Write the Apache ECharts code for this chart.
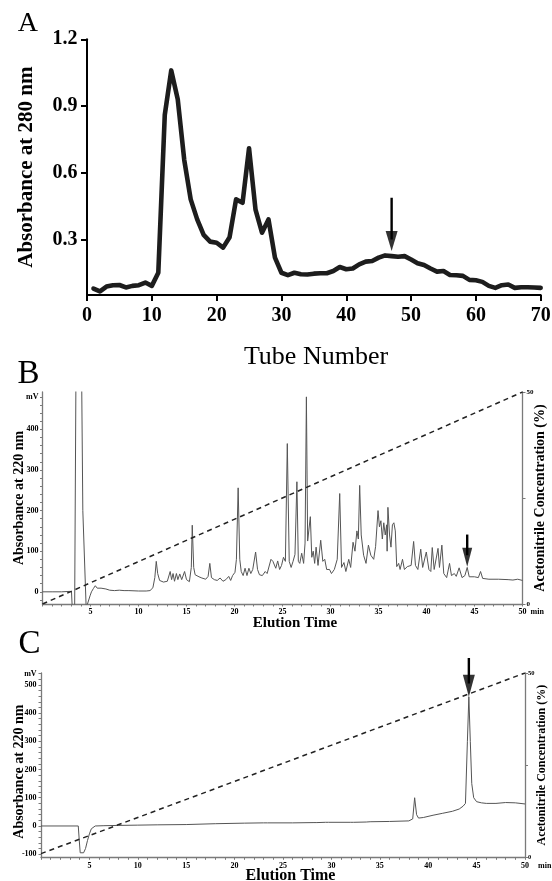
<!DOCTYPE html>
<html><head><meta charset="utf-8">
<script src="https://cdn.jsdelivr.net/npm/echarts@6/dist/echarts.min.js"></script>
<style>html,body{margin:0;padding:0;background:#fff}#c{width:552px;height:881px}</style>
</head><body><div id="c"></div><script>
// ---------- Panel A: gel filtration ----------
const tubeNumbers = [1,2,3,4,5,6,7,8,9,10,11,12,13,14,15,16,17,18,19,20,21,22,23,24,25,26,27,28,29,30,31,32,33,34,35,36,37,38,39,40,41,42,43,44,45,46,47,48,49,50,51,52,53,54,55,56,57,58,59,60,61,62,63,64,65,66,67,68,69,70];
const absorbance280 = [0.079,0.066,0.088,0.094,0.095,0.084,0.091,0.094,0.106,0.091,
  0.15,0.86,1.06,0.93,0.658,0.48,0.39,0.32,0.29,0.285,
  0.263,0.31,0.48,0.465,0.71,0.434,0.33,0.39,0.218,0.15,
  0.139,0.15,0.143,0.142,0.146,0.148,0.148,0.158,0.176,0.166,
  0.169,0.188,0.2,0.203,0.218,0.228,0.225,0.222,0.225,0.21,
  0.193,0.185,0.169,0.155,0.158,0.14,0.139,0.136,0.118,0.116,
  0.109,0.091,0.082,0.094,0.097,0.082,0.085,0.085,0.084,0.082];
const tickLabelsA_y = [0.3, 0.6, 0.9, 1.2];
const arrowA = {x: 47, top: 0.487, shaftEnd: 0.30, tip: 0.248};

// ---------- Panel B: RP-HPLC of the fraction ----------
const timeB = [0,1,2,2.8,2.95,3.02,3.1,3.35,3.5,4.05,4.2,4.55,4.75,4.95,5.1,5.3,5.5,5.7,5.9,6.1,6.3,6.6,7.0,7.5,8.0,8.5,9.0,10.0,10.8,11.2,11.5,11.7,11.85,12.0,12.2,12.4,12.6,12.8,13.0,13.3,13.45,13.6,13.75,13.95,14.1,14.3,14.5,14.8,15.0,15.3,15.5,15.6,15.75,15.9,16.1,16.3,16.6,17.0,17.25,17.43,17.6,17.9,18.2,18.5,18.8,19.1,19.4,19.6,19.8,20.05,20.2,20.38,20.55,20.7,20.9,21.1,21.3,21.5,21.7,21.9,22.2,22.4,22.6,22.9,23.2,23.4,23.8,24.0,24.3,24.5,24.7,24.9,25.1,25.3,25.5,25.7,25.9,26.1,26.3,26.5,26.65,26.8,27.0,27.2,27.35,27.49,27.62,27.7,27.9,28.05,28.2,28.35,28.5,28.7,28.98,29.2,29.4,29.6,29.9,30.1,30.4,30.7,30.96,31.15,31.4,31.6,31.9,32.1,32.35,32.55,32.75,32.9,33.04,33.2,33.45,33.7,33.95,34.2,34.5,34.7,34.85,34.95,35.1,35.25,35.4,35.55,35.7,35.85,35.9,35.98,36.15,36.3,36.45,36.6,36.75,36.9,37.1,37.25,37.5,37.7,38.0,38.4,38.66,38.85,39.1,39.4,39.6,39.98,40.25,40.45,40.6,40.8,41.2,41.35,41.6,41.8,42.1,42.4,42.6,42.9,43.1,43.4,43.7,44.0,44.24,44.45,45.0,45.4,45.63,45.85,46.5,47.5,48.5,49.0,49.5,50];
const mvB = [0,0,0,1,4,0,-40,-40,600,600,200,-40,-40,-10,0,8,15,9,6,9,12,7,4,3,4,3,3,2,2,3,10,35,75,45,28,30,24,22,26,50,30,45,26,45,30,44,30,50,30,25,60,164,60,42,45,37,34,31,38,70,35,30,28,34,26,30,38,28,40,48,80,256,80,50,40,58,40,58,45,55,98,55,42,40,50,45,80,75,58,76,55,65,85,75,365,75,60,75,92,271,75,70,95,70,120,480,125,122,185,85,100,70,110,65,127,75,80,55,55,45,55,80,242,60,72,50,80,60,122,100,150,130,262,140,90,70,115,90,80,112,115,200,160,175,130,170,140,165,100,208,140,110,165,170,150,62,70,55,80,55,62,65,124,65,55,105,60,98,55,50,109,55,107,60,115,45,35,70,40,45,38,59,35,40,60,37,37,35,50,33,31,31,30,29,31,28];
const gradientTimeB = [0, 50];
const acetonitrileB = [0, 50];
const arrowB = {x: 44.24, top: 141, shaftEnd: 90, tip: 62};

// ---------- Panel C: purified peptide ----------
const timeC = [0,3.85,3.95,4.05,4.2,4.4,4.6,4.8,5.0,5.2,5.4,5.6,6.5,8,10,12,15,18,21,23,23.2,23.4,26,28.2,28.35,28.5,29.4,29.55,29.7,32,32.15,32.3,33.6,33.8,34.0,36,38,38.4,38.6,38.8,39.0,39.5,40.5,41.5,42.5,43.2,43.6,43.85,44.05,44.2,44.35,44.5,44.7,45.0,45.5,46,47,48,49,50];
const mvC = [0,0,-50,-95,-100,-95,-80,-52,-28,-10,-3,0,1,2,3,4,5,8,10,11,14,11,11,12,14,12,13,16,13,13,15,13,14,20,15,16,18,25,100,40,28,30,38,45,52,60,70,80,300,458,300,150,100,86,82,80,80,83,82,78];
const gradientTimeC = [0, 50];
const acetonitrileC = [1, 50];
const arrowC = {x: 44.2, top: 595, shaftEnd: 505, tip: 458};

// ---------- tick label lists ----------
const minuteLabels = [5,10,15,20,25,30,35,40,45,50];
const minuteTicks = Array.from({length: 51}, (_, i) => i);
const mvLabelsB = [0,100,200,300,400];
const mvLabelsC = [-100,0,100,200,300,400,500];
const pctLabels = [0, 50];

const SERIF = "'Liberation Serif','Times New Roman',serif";
const zip = (xs, ys) => xs.map((x, i) => [x, ys[i]]);
const range = (a, b, s) => { const r = []; for (let v = a; v <= b + 1e-9; v += s) r.push(v); return r; };

const GRAY = '#7a7a7a';
const smallLbl = {fontFamily: SERIF, fontWeight: 'bold', fontSize: 8, color: '#000'};

function arrowSeries(xi, yi, a, size) {
  return [
    {type: 'line', xAxisIndex: xi, yAxisIndex: yi, data: [[a.x, a.top], [a.x, a.shaftEnd]],
     symbol: 'none', clip: false, silent: true, lineStyle: {color: '#000', width: 2.4}, z: 5},
    {type: 'scatter', xAxisIndex: xi, yAxisIndex: yi, data: [[a.x, a.tip]], clip: false, silent: true,
     symbol: 'path://M0,0L10,0L5,10Z', symbolSize: size, symbolOffset: [0, '-50%'],
     itemStyle: {color: '#000'}, z: 6}
  ];
}

const chart = echarts.init(document.getElementById('c'), null, {renderer: 'canvas'});
chart.setOption({
  animation: false,
  backgroundColor: '#fff',
  grid: [
    {left: 87, right: 11.3, top: 39.3, bottom: 586, outerBoundsMode: 'none', containLabel: false},
    {left: 42.5, right: 29.5, top: 392, bottom: 277, outerBoundsMode: 'none', containLabel: false},
    {left: 41, right: 27, top: 673, bottom: 23.7, outerBoundsMode: 'none', containLabel: false}
  ],
  xAxis: [
    {gridIndex: 0, type: 'value', min: 0, max: 70, interval: 10,
     axisLine: {show: true, onZero: false, lineStyle: {color: '#000', width: 2}},
     axisTick: {show: true, inside: false, length: 6, lineStyle: {color: '#000', width: 2}},
     axisLabel: {margin: 11, fontFamily: SERIF, fontWeight: 'bold', fontSize: 20, color: '#000'},
     splitLine: {show: false}},
    {gridIndex: 1, type: 'value', min: 0, max: 50,
     name: 'min', nameLocation: 'end', nameGap: 8, nameMoveOverlap: false,
     nameTextStyle: Object.assign({}, smallLbl, {verticalAlign: 'top', align: 'left', padding: [4, 0, 0, 0]}),
     axisLine: {show: true, onZero: false, lineStyle: {color: GRAY, width: 1.3}},
     axisTick: {show: true, inside: false, length: 2.5, customValues: minuteTicks, lineStyle: {color: GRAY, width: 1}},
     axisLabel: Object.assign({margin: 4, customValues: minuteLabels}, smallLbl),
     splitLine: {show: false}},
    {gridIndex: 2, type: 'value', min: 0, max: 50,
     name: 'min', nameLocation: 'end', nameGap: 13, nameMoveOverlap: false,
     nameTextStyle: Object.assign({}, smallLbl, {verticalAlign: 'top', align: 'left', padding: [4.5, 0, 0, 0]}),
     axisLine: {show: true, onZero: false, lineStyle: {color: GRAY, width: 1.3}},
     axisTick: {show: true, inside: false, length: 2.5, customValues: minuteTicks, lineStyle: {color: GRAY, width: 1}},
     axisLabel: Object.assign({margin: 4.5, customValues: minuteLabels}, smallLbl),
     splitLine: {show: false}}
  ],
  yAxis: [
    {gridIndex: 0, type: 'value', min: 0.05, max: 1.2,
     name: 'Absorbance at 280 nm', nameLocation: 'middle', nameGap: 50, nameRotate: 90, nameMoveOverlap: false,
     nameTextStyle: {fontFamily: SERIF, fontWeight: 'bold', fontSize: 21, color: '#000'},
     axisLine: {show: true, onZero: false, lineStyle: {color: '#000', width: 2}},
     axisTick: {show: true, inside: false, length: 6, customValues: tickLabelsA_y, lineStyle: {color: '#000', width: 2}},
     axisLabel: {margin: 9.5, customValues: tickLabelsA_y, formatter: v => v.toFixed(1),
       fontFamily: SERIF, fontWeight: 'bold', fontSize: 20, color: '#000'},
     splitLine: {show: false}},
    {gridIndex: 1, type: 'value', min: -30, max: 492, position: 'left',
     name: 'Absorbance at 220 nm', nameLocation: 'middle', nameGap: 16, nameRotate: 90, nameMoveOverlap: false,
     nameTextStyle: {fontFamily: SERIF, fontWeight: 'bold', fontSize: 14, color: '#000'},
     axisLine: {show: true, onZero: false, lineStyle: {color: GRAY, width: 1.3}},
     axisTick: {show: true, inside: false, length: 2.5, customValues: range(-20, 480, 20), lineStyle: {color: GRAY, width: 1}},
     axisLabel: Object.assign({margin: 4, customValues: mvLabelsB.concat([480]),
       formatter: v => (v === 480 ? 'mV' : String(v))}, smallLbl),
     splitLine: {show: false}},
    {gridIndex: 1, type: 'value', min: 0, max: 50, position: 'right',
     name: 'Acetonitrile Concentration (%)', nameLocation: 'middle', nameGap: 11, nameRotate: 90, nameMoveOverlap: false,
     nameTextStyle: {fontFamily: SERIF, fontWeight: 'bold', fontSize: 14, color: '#000'},
     axisLine: {show: true, onZero: false, lineStyle: {color: GRAY, width: 1.3}},
     axisTick: {show: true, inside: false, length: 3, customValues: [0, 25, 50], lineStyle: {color: GRAY, width: 1}},
     axisLabel: Object.assign({margin: 4, customValues: pctLabels}, smallLbl, {fontSize: 7}),
     splitLine: {show: false}},
    {gridIndex: 2, type: 'value', min: -111, max: 542, position: 'left',
     name: 'Absorbance at 220 nm', nameLocation: 'middle', nameGap: 14.5, nameRotate: 90, nameMoveOverlap: false,
     nameTextStyle: {fontFamily: SERIF, fontWeight: 'bold', fontSize: 14, color: '#000', padding: [0, 13, 0, 0]},
     axisLine: {show: true, onZero: false, lineStyle: {color: GRAY, width: 1.3}},
     axisTick: {show: true, inside: false, length: 2.5, customValues: range(-100, 540, 20), lineStyle: {color: GRAY, width: 1}},
     axisLabel: Object.assign({margin: 4.4, customValues: mvLabelsC.concat([540]),
       formatter: v => (v === 540 ? 'mV' : String(v))}, smallLbl),
     splitLine: {show: false}},
    {gridIndex: 2, type: 'value', min: 0, max: 50, position: 'right',
     name: 'Acetonitrile Concentration (%)', nameLocation: 'middle', nameGap: 11, nameRotate: 90, nameMoveOverlap: false,
     nameTextStyle: {fontFamily: SERIF, fontWeight: 'bold', fontSize: 12, color: '#000'},
     axisLine: {show: true, onZero: false, lineStyle: {color: GRAY, width: 1.3}},
     axisTick: {show: true, inside: false, length: 3, customValues: [0, 25, 50], lineStyle: {color: GRAY, width: 1}},
     axisLabel: Object.assign({margin: 3, customValues: pctLabels}, smallLbl, {fontSize: 6.5}),
     splitLine: {show: false}}
  ],
  graphic: [
    {type: 'text', x: 27.8, y: 24, style: {text: 'A', font: '28px ' + SERIF, fill: '#000', align: 'center', verticalAlign: 'middle'}},
    {type: 'text', x: 316, y: 357, style: {text: 'Tube Number', font: '26px ' + SERIF, fill: '#000', align: 'center', verticalAlign: 'middle'}},
    {type: 'text', x: 28.5, y: 374, style: {text: 'B', font: '33px ' + SERIF, fill: '#000', align: 'center', verticalAlign: 'middle'}},
    {type: 'text', x: 295, y: 623, style: {text: 'Elution Time', font: 'bold 15px ' + SERIF, fill: '#000', align: 'center', verticalAlign: 'middle'}},
    {type: 'text', x: 29.5, y: 644, style: {text: 'C', font: '33px ' + SERIF, fill: '#000', align: 'center', verticalAlign: 'middle'}},
    {type: 'text', x: 290.5, y: 876, style: {text: 'Elution Time', font: 'bold 16px ' + SERIF, fill: '#000', align: 'center', verticalAlign: 'middle'}}
  ],
  series: [
    {type: 'line', xAxisIndex: 0, yAxisIndex: 0, data: zip(tubeNumbers, absorbance280), symbol: 'none',
     lineStyle: {color: '#1d1d1d', width: 4.6, join: 'round', cap: 'round'}},
    ...arrowSeries(0, 0, arrowA, [12, 20]),
    {type: 'line', xAxisIndex: 1, yAxisIndex: 1, data: zip(timeB, mvB), symbol: 'none',
     lineStyle: {color: '#555', width: 1}},
    {type: 'line', xAxisIndex: 1, yAxisIndex: 2, data: zip(gradientTimeB, acetonitrileB), symbol: 'none',
     lineStyle: {color: '#222', width: 1.5, type: [5, 4]}},
    ...arrowSeries(1, 1, arrowB, [10, 19]),
    {type: 'line', xAxisIndex: 2, yAxisIndex: 3, data: zip(timeC, mvC), symbol: 'none',
     lineStyle: {color: '#555', width: 1}},
    {type: 'line', xAxisIndex: 2, yAxisIndex: 4, data: zip(gradientTimeC, acetonitrileC), symbol: 'none',
     lineStyle: {color: '#222', width: 1.5, type: [5, 4]}},
    ...arrowSeries(2, 3, arrowC, [12, 22])
  ]
});
</script></body></html>
